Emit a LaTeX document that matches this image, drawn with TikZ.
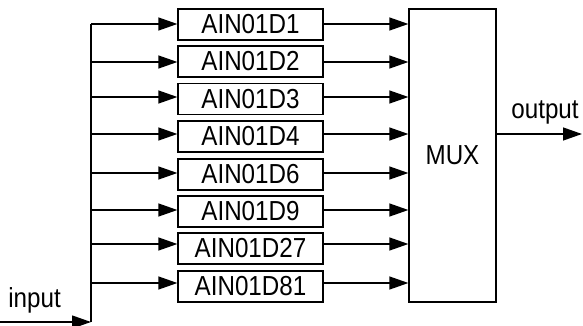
\documentclass[tikz,border=0pt]{standalone}
\usepackage{fontspec}
\newfontfamily\labfont[FakeStretch=0.88]{Liberation Sans}
\usetikzlibrary{arrows.meta}
\tikzset{
  box/.style={draw, line width=1.3pt, minimum width=145pt, minimum height=31pt, inner sep=0pt, font=\labfont\fontsize{27.5}{29}\selectfont},
  muxbox/.style={draw, line width=1.3pt, minimum width=87pt, minimum height=293pt, inner sep=0pt, font=\labfont\fontsize{27.5}{29}\selectfont},
  lab/.style={inner sep=0pt, font=\labfont\fontsize{27.5}{29}\selectfont},
  arr/.style={line width=1.3pt, -{Triangle[length=19pt,width=13pt]}},
  wire/.style={line width=1.3pt},
}
\begin{document}
\begin{tikzpicture}[x=1pt,y=-1pt]
\useasboundingbox (0,0) rectangle (583,326);
% boxes
\node[box] (b1) at (250.5,24.5) {AIN01D1};
\node[box] (b2) at (250.5,61.5) {AIN01D2};
\node[box] (b3) at (250.5,99) {AIN01D3};
\node[box] (b4) at (250.5,136.5) {AIN01D4};
\node[box] (b6) at (250.5,174.5) {AIN01D6};
\node[box] (b9) at (250.5,211.5) {AIN01D9};
\node[box] (b27) at (250.5,248.5) {AIN01D27};
\node[box] (b81) at (250.5,286.5) {AIN01D81};
\node[muxbox] (mux) at (452.5,155.5) {MUX};
% bus and input
\coordinate (bustop) at (91,24);
\coordinate (busbot) at (91,322);
\coordinate (inl) at (0,322);
\node[lab, anchor=base] (inlab) at (34.5,307) {input};
\draw[arr] (inl) -- (busbot);
\draw[wire] (busbot) -- (bustop);
% rows
\foreach \n/\y in {b1/24, b2/62, b3/97, b4/134, b6/173, b9/210, b27/244, b81/283}{
  \coordinate (r) at (0,\y);
  \draw[arr] (r -| bustop) -- (r -| \n.west);
  \draw[arr] (r -| \n.east) -- (r -| mux.west);
}
% output
\coordinate (outr) at (582,134);
\draw[arr] (outr -| mux.east) -- (outr);
\node[lab, anchor=base] (outlab) at (545,118) {output};
\end{tikzpicture}
\end{document}
